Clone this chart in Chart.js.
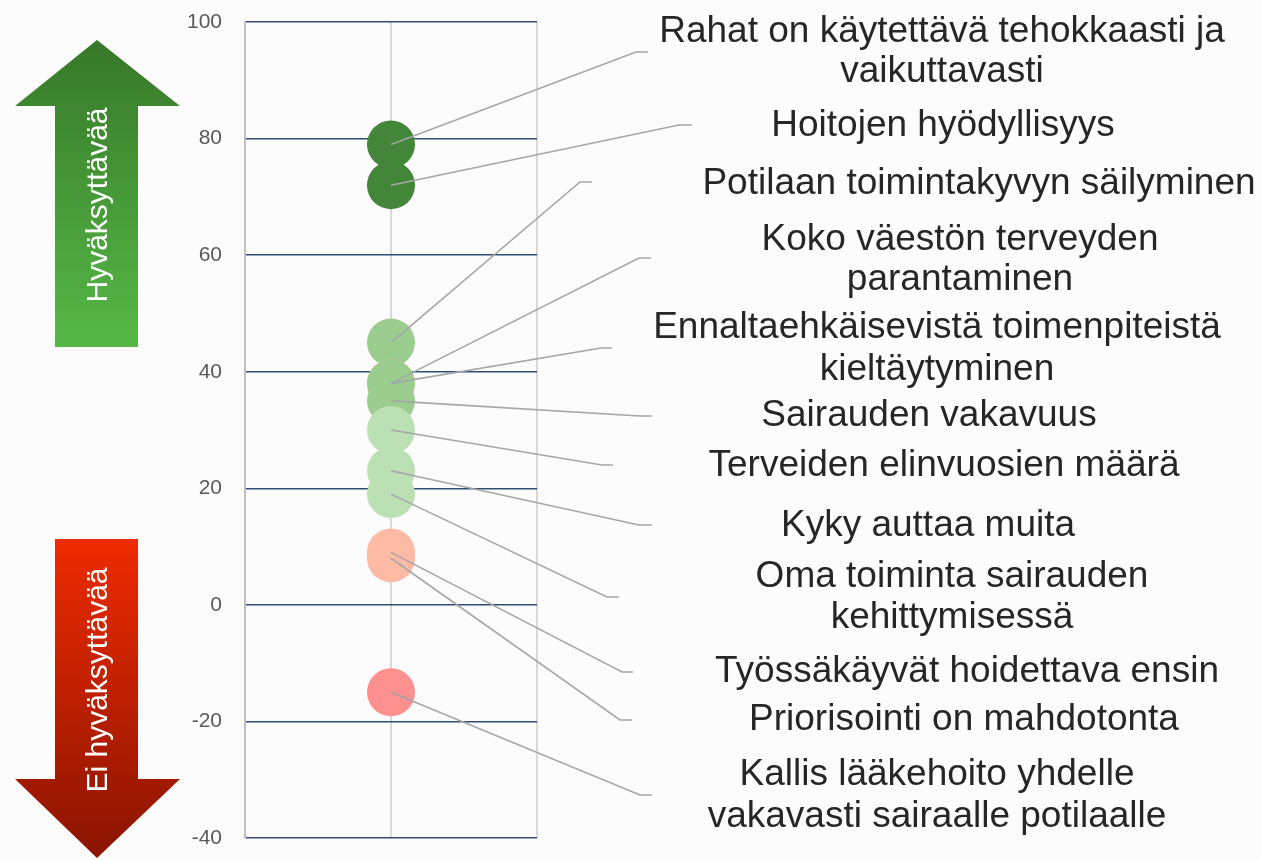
<!DOCTYPE html>
<html>
<head>
<meta charset="utf-8">
<script src="https://cdn.jsdelivr.net/npm/chart.js@4/dist/chart.umd.min.js"></script>
<style>
  html, body { margin: 0; padding: 0; background: #fcfcfc; }
  #wrap { width: 1261px; height: 860px; }
</style>
</head>
<body>
<div id="wrap"><canvas id="chart"></canvas></div>
<script>
// values
var statements = [
  ['Rahat on käytettävä tehokkaasti ja', 'vaikuttavasti'],
  ['Hoitojen hyödyllisyys'],
  ['Potilaan toimintakyvyn säilyminen'],
  ['Koko väestön terveyden', 'parantaminen'],
  ['Ennaltaehkäisevistä toimenpiteistä', 'kieltäytyminen'],
  ['Sairauden vakavuus'],
  ['Terveiden elinvuosien määrä'],
  ['Kyky auttaa muita'],
  ['Oma toiminta sairauden', 'kehittymisessä'],
  ['Työssäkäyvät hoidettava ensin'],
  ['Priorisointi on mahdotonta'],
  ['Kallis lääkehoito yhdelle', 'vakavasti sairaalle potilaalle']
];
var scores = [79, 72, 45, 38, 38, 35, 30, 23, 19, 9, 8, -15];
var yTicks = [-40, -20, 0, 20, 40, 60, 80, 100];

var dotColours = ['#43863a', '#43863a', '#9acd8e', '#f6b69a', '#9acd8e', '#9acd8e',
                  '#bbe0b4', '#bbe0b4', '#bbe0b4', '#fdbba5', '#fdbba5', '#ff9090'];

// where each callout bends and where its text sits (px)
var callouts = [
  { bx: 636, by: 52,  ex: 648, tx: 942, ty: [32, 72] },
  { bx: 679, by: 125, ex: 692, tx: 943, ty: [126] },
  { bx: 580, by: 182, ex: 592, tx: 979, ty: [184] },
  { bx: 639, by: 258, ex: 651, tx: 960, ty: [240, 280] },
  { bx: 601, by: 348, ex: 612, tx: 937, ty: [328, 370] },
  { bx: 640, by: 416, ex: 652, tx: 929, ty: [416] },
  { bx: 602, by: 465, ex: 613, tx: 944, ty: [466] },
  { bx: 639, by: 525, ex: 652, tx: 928, ty: [526] },
  { bx: 607, by: 597, ex: 619, tx: 952, ty: [577, 618] },
  { bx: 622, by: 672, ex: 633, tx: 967, ty: [672] },
  { bx: 620, by: 720, ex: 632, tx: 964, ty: [720] },
  { bx: 640, by: 795, ex: 652, tx: 937, ty: [775, 817] }
];

var FONT = '"Liberation Sans", Arial, sans-serif';

function drawArrow(ctx, up, top, bottom, headY, c1, c2, text, textY) {
  var g = ctx.createLinearGradient(0, top, 0, bottom);
  g.addColorStop(0, c1);
  g.addColorStop(1, c2);
  ctx.fillStyle = g;
  ctx.beginPath();
  if (up) {
    ctx.moveTo(97, top);
    ctx.lineTo(180, headY);
    ctx.lineTo(138, headY);
    ctx.lineTo(138, bottom);
    ctx.lineTo(55, bottom);
    ctx.lineTo(55, headY);
    ctx.lineTo(15, headY);
  } else {
    ctx.moveTo(55, top);
    ctx.lineTo(138, top);
    ctx.lineTo(138, headY);
    ctx.lineTo(180, headY);
    ctx.lineTo(97, bottom);
    ctx.lineTo(15, headY);
    ctx.lineTo(55, headY);
  }
  ctx.closePath();
  ctx.fill();

  ctx.save();
  ctx.translate(99, textY);
  ctx.rotate(-Math.PI / 2);
  ctx.fillStyle = '#ffffff';
  ctx.font = '30px ' + FONT;
  ctx.textAlign = 'center';
  ctx.textBaseline = 'middle';
  ctx.fillText(text, 0, 0);
  ctx.restore();
}

var decorations = {
  id: 'decorations',
  beforeDraw: function(chart) {
    var ctx = chart.ctx;
    ctx.save();
    ctx.fillStyle = '#fcfcfc';
    ctx.fillRect(0, 0, chart.width, chart.height);
    drawArrow(ctx, true, 40, 347, 106, '#377829', '#56b946', 'Hyväksyttävää', 205);
    drawArrow(ctx, false, 539, 858, 779, '#ee2b00', '#8a1400', 'Ei hyväksyttävää', 680);
    ctx.restore();
  },
  afterDatasetsDraw: function(chart) {
    var ctx = chart.ctx;
    var xs = chart.scales.x, ys = chart.scales.y;
    var px = xs.getPixelForValue(1);
    ctx.save();
    ctx.strokeStyle = '#a6a6a6';
    ctx.lineWidth = 1.6;
    ctx.fillStyle = '#262626';
    ctx.font = '37px ' + FONT;
    ctx.textAlign = 'center';
    ctx.textBaseline = 'middle';
    for (var i = 0; i < scores.length; i++) {
      var c = callouts[i];
      var py = ys.getPixelForValue(scores[i]);
      ctx.beginPath();
      ctx.moveTo(px, py);
      ctx.lineTo(c.bx, c.by);
      ctx.lineTo(c.ex, c.by);
      ctx.stroke();
      for (var j = 0; j < statements[i].length; j++) {
        ctx.fillText(statements[i][j], c.tx, c.ty[j]);
      }
    }
    ctx.restore();
  }
};

var points = [];
for (var i = 0; i < scores.length; i++) {
  points.push({ x: 1, y: scores[i] });
}

new Chart(document.getElementById('chart'), {
  type: 'scatter',
  data: {
    datasets: [{
      data: points,
      pointRadius: 24,
      pointHoverRadius: 24,
      pointBorderWidth: 0,
      pointBackgroundColor: dotColours,
      pointBorderColor: dotColours
    }]
  },
  options: {
    responsive: true,
    maintainAspectRatio: false,
    animation: false,
    events: [],
    layout: { autoPadding: false, padding: { left: 0, right: 724, top: 22, bottom: 22 } },
    plugins: { legend: { display: false }, tooltip: { enabled: false } },
    scales: {
      x: {
        type: 'linear',
        min: 0, max: 2,
        ticks: { display: false, stepSize: 1 },
        grid: { color: '#d9d9d9', lineWidth: 2, drawTicks: false },
        border: { display: false },
        afterFit: function(s) { s.height = 0; }
      },
      y: {
        min: -40, max: 100,
        afterBuildTicks: function(s) {
          s.ticks = yTicks.map(function(v) { return { value: v }; });
        },
        ticks: { color: '#595959', padding: 23, font: { family: FONT, size: 21 } },
        grid: { color: '#2f4c72', lineWidth: 1.5, drawTicks: false },
        border: { color: '#bfbfbf', width: 2 },
        afterFit: function(s) {
          s.width = 245;
          s.paddingTop = 0;
          s.paddingBottom = 0;
        }
      }
    }
  },
  plugins: [decorations]
});
</script>
</body>
</html>
